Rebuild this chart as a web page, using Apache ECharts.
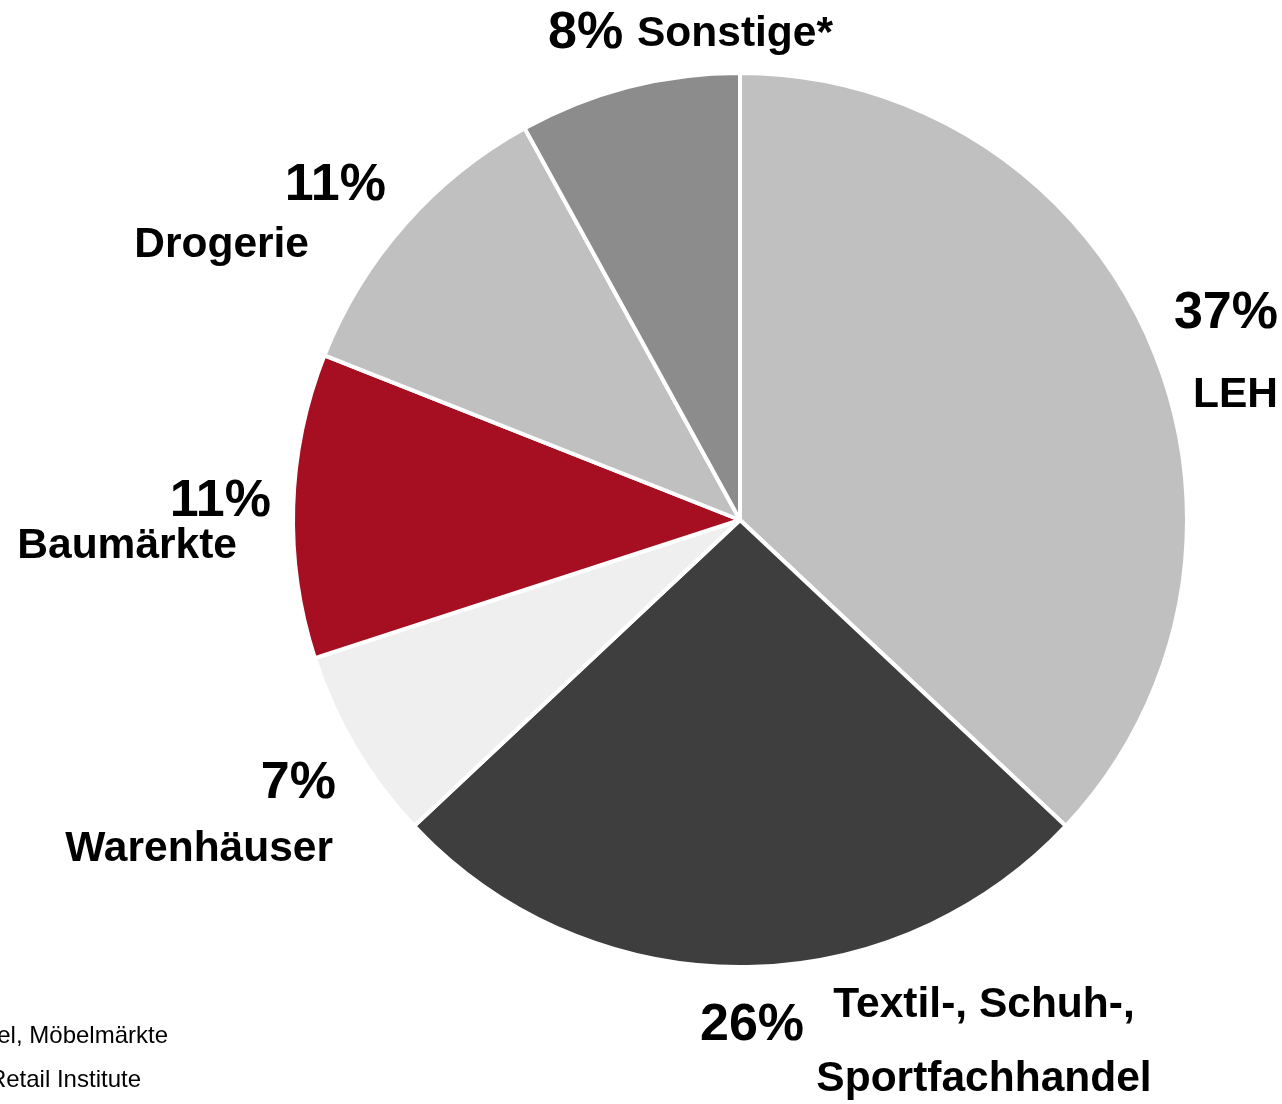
<!DOCTYPE html>
<html>
<head>
<meta charset="utf-8">
<script src="https://cdn.jsdelivr.net/npm/echarts@6/dist/echarts.min.js"></script>
<style>
  html, body { margin: 0; padding: 0; background: #fff; }
  #chart { width: 1282px; height: 1104px; }
</style>
</head>
<body>
<div id="chart"></div>
<script>
  // Anteile nach Vertriebsweg (im Uhrzeigersinn ab 12 Uhr)
  var categories = ['LEH', 'Textil-, Schuh-,\nSportfachhandel', 'Warenhäuser', 'Baumärkte', 'Drogerie', 'Sonstige*'];
  var shares = [37, 26, 7, 11, 11, 8];
  var colors = ['#c0c0c0', '#3e3e3e', '#efefef', '#a60f21', '#c0c0c0', '#8c8c8c'];
  var footnotes = ['el, Möbelmärkte', 'Retail Institute'];

  // Label-Positionen (Pixel)
  var pctPos = [
    {x: 1278, y: 314, align: 'right'},
    {x: 700, y: 1026, align: 'left'},
    {x: 336, y: 784, align: 'right'},
    {x: 271, y: 502, align: 'right'},
    {x: 386, y: 186, align: 'right'},
    {x: 548, y: 34, align: 'left'}
  ];
  var namePos = [
    {x: 1278, y: 395, align: 'right'},
    {x: 984, y: 1042, align: 'center'},
    {x: 333, y: 849, align: 'right'},
    {x: 237, y: 546, align: 'right'},
    {x: 309, y: 245, align: 'right'},
    {x: 637, y: 34, align: 'left'}
  ];

  var pieData = categories.map(function (c, i) {
    return {name: c, value: shares[i], itemStyle: {color: colors[i]}};
  });

  var chart = echarts.init(document.getElementById('chart'));
  var font = '"Liberation Sans", Arial, Helvetica, sans-serif';

  chart.setOption({
    animation: false,
    series: [
      {
        type: 'pie',
        center: [740, 520],
        radius: [0, 447],
        startAngle: 90,
        clockwise: true,
        data: pieData,
        itemStyle: {borderColor: '#fff', borderWidth: 4},
        labelLine: {show: false},
        label: {
          show: true,
          formatter: '{c}%',
          color: '#000',
          fontFamily: font,
          fontWeight: 'bold',
          fontSize: 52,
          overflow: 'none',
          width: 400
        },
        labelLayout: function (p) {
          var q = pctPos[p.dataIndex];
          return {x: q.x, y: q.y, align: q.align, verticalAlign: 'middle'};
        },
        emphasis: {disabled: true}
      },
      {
        type: 'pie',
        center: [740, 520],
        radius: [0, 447],
        startAngle: 90,
        silent: true,
        data: categories.map(function (c, i) { return {name: c, value: shares[i]}; }),
        itemStyle: {color: 'rgba(0,0,0,0)', borderWidth: 0},
        labelLine: {show: false},
        label: {
          show: true,
          formatter: '{b}',
          color: '#000',
          fontFamily: font,
          fontWeight: 'bold',
          fontSize: 42.5,
          lineHeight: 74,
          overflow: 'none',
          width: 400
        },
        labelLayout: function (p) {
          var q = namePos[p.dataIndex];
          return {x: q.x, y: q.y, align: q.align, verticalAlign: 'middle'};
        },
        emphasis: {disabled: true}
      }
    ],
    graphic: [
      {type: 'text', right: 1282 - 168, top: 1024,
        style: {text: footnotes[0], fill: '#000', font: '24px ' + font}},
      {type: 'text', right: 1282 - 141, top: 1068,
        style: {text: footnotes[1], fill: '#000', font: '24px ' + font}}
    ]
  });
</script>
</body>
</html>
